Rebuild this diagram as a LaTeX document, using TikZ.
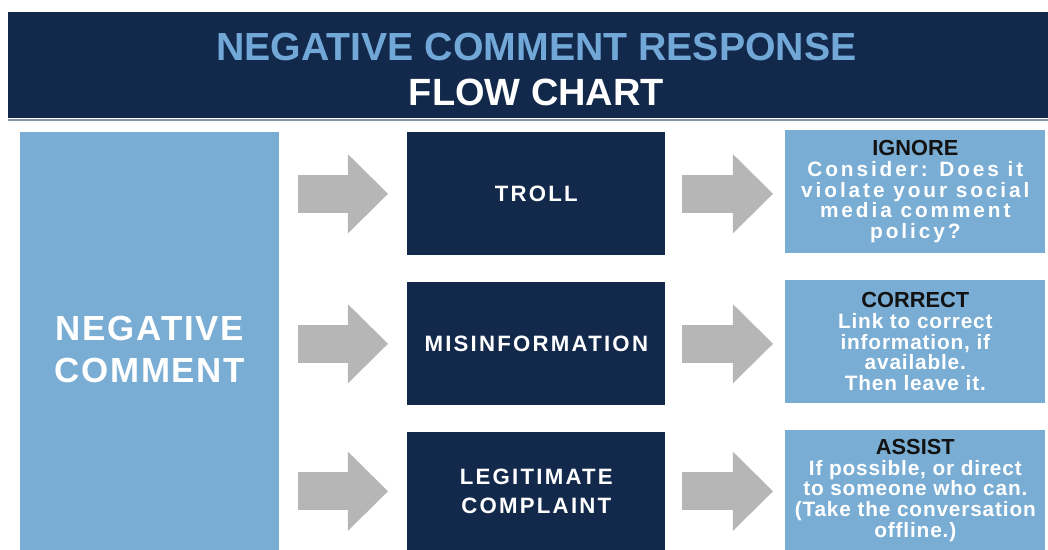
\documentclass[tikz,border=0pt]{standalone}
\usepackage{fontspec}
\setmainfont{Liberation Sans}
\newfontfamily\boxfont[LetterSpace=10]{Liberation Sans}
\newfontfamily\notefont[LetterSpace=4]{Liberation Sans}
\newfontfamily\widenotefont[LetterSpace=14]{Liberation Sans}
\newfontfamily\sidefont[LetterSpace=5]{Liberation Sans}
\usepackage{xcolor}
\definecolor{navy}{HTML}{13294B}
\definecolor{skyblue}{HTML}{7AADD4}
\definecolor{titleblue}{HTML}{72A8D8}
\definecolor{arrowgrey}{HTML}{B6B6B6}
\definecolor{rulegrey}{HTML}{8293AA}
\definecolor{textblack}{HTML}{121212}
\usetikzlibrary{arrows.meta,positioning}

\begin{document}
\begin{tikzpicture}[x=0.025cm, y=-0.025cm,
    navybox/.style={rectangle, fill=navy, text=white, anchor=north west, inner sep=0pt, align=center,
      minimum width=6.45cm, minimum height=3.075cm, font=\boxfont\bfseries\fontsize{15.8}{20.6}\selectfont},
    skybox/.style={rectangle, fill=skyblue, text=white, anchor=north west, inner sep=0pt, align=center,
      minimum width=6.5cm, minimum height=3.075cm, font=\notefont\bfseries\fontsize{14.8}{14.7}\selectfont},
    blockarrow/.style={draw=arrowgrey, line width=0.95cm,
      -{Triangle[length=1cm, width=1.975cm, line width=0pt]}}]
  \useasboundingbox (0,0) rectangle (1048,550);
  \newcommand\boxhead[1]{{\color{textblack}\fontspec{Liberation Sans}\bfseries\fontsize{15.5}{14.7}\selectfont #1}}

  % header band
  \node[rectangle, fill=navy, anchor=north west, inner sep=0pt, minimum width=26cm, minimum height=2.65cm,
    align=center, text=white, font=\bfseries\fontsize{27.9}{32}\selectfont] (header) at (8,12)
    {\hspace*{11.4pt}\textcolor{titleblue}{\rule{0pt}{25.7pt}NEGATIVE COMMENT RESPONSE}\\
     \hspace*{11.4pt}{\fontsize{27}{32}\selectfont FLOW CHART}};
  \draw[rulegrey, line width=1.4pt] ([yshift=-0.7pt]header.south west) -- ([yshift=-0.7pt]header.south east);

  % left column
  \node[rectangle, fill=skyblue, text=white, anchor=north west, inner sep=0pt, align=center,
    minimum width=6.475cm, minimum height=10.45cm, font=\sidefont\bfseries\fontsize{24.8}{30.5}\selectfont]
    (negative) at (20,132) {\rule{0pt}{29pt}NEGATIVE\\COMMENT};

  % middle column
  \node[navybox] (troll) at (407,132) {TROLL};
  \node[navybox] (misinfo) at (407,282) {MISINFORMATION};
  \node[navybox, minimum height=2.95cm] (complaint) at (407,432) {LEGITIMATE\\COMPLAINT};

  % right column
  \node[skybox, font=\widenotefont\bfseries\fontsize{14.8}{14.7}\selectfont] (ignore) at (785,130)
    {\boxhead{IGNORE}\\Consider: Does it\\violate your social\\media comment\\policy?};
  \node[skybox] (correct) at (785,280)
    {\boxhead{CORRECT}\\Link to correct\\information, if\\available.\\Then leave it.};
  \node[skybox, minimum height=3cm] (assist) at (785,430)
    {\boxhead{ASSIST}\\If possible, or direct\\to someone who can.\\(Take the conversation\\offline.)};

  % arrows
  \draw[blockarrow, shorten <=0.45cm, shorten >=0.475cm] (negative.east |- troll.west) -- (troll.west);
  \draw[blockarrow, shorten <=0.45cm, shorten >=0.475cm] (negative.east |- misinfo.west) -- (misinfo.west);
  \draw[blockarrow, shorten <=0.45cm, shorten >=0.475cm] (negative.east |- complaint.west) -- (complaint.west);
  \draw[blockarrow, shorten <=0.4cm, shorten >=0.3cm] (troll.east) -- (troll.east -| ignore.west);
  \draw[blockarrow, shorten <=0.4cm, shorten >=0.3cm] (misinfo.east) -- (misinfo.east -| correct.west);
  \draw[blockarrow, shorten <=0.4cm, shorten >=0.3cm] (complaint.east) -- (complaint.east -| assist.west);
\end{tikzpicture}
\end{document}
